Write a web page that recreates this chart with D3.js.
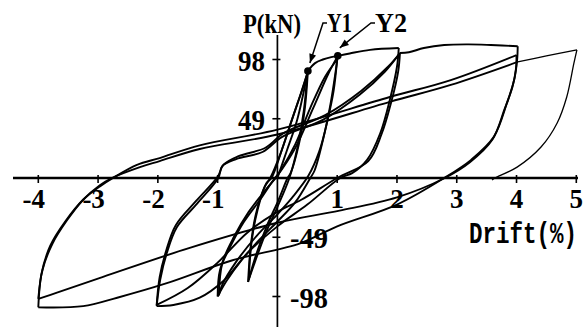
<!DOCTYPE html>
<html>
<head>
<meta charset="utf-8">
<script src="https://cdn.jsdelivr.net/npm/d3@7"></script>
<style>
  body { margin: 0; background: #fff; }
  svg text { font-family: "Liberation Serif", serif; font-weight: bold; fill: #000; }
</style>
</head>
<body>
<script>
const width = 584;
const height = 327;

// axis ticks
const xTicks = [-4, -3, -2, -1, 1, 2, 3, 4, 5];
const yTicks = [98, 49, -49, -98];

// yield points marked on the curve
const yieldNames = ["Y1", "Y2"];
const yieldDrift = [0.51, 1.01];
const yieldLoad = [88.5, 101];

// hysteresis branches, [drift %, P kN], in loading order
const virgin = [[0,0],[0.16,23],[0.33,48],[0.51,88.5]];

const cycle05 = [
  [[0.51,88.5],[0.46,58],[0.36,28],[0.22,4],[0.17,0],[0.02,-18],[-0.18,-40],[-0.36,-64],[-0.49,-86]],
  [[-0.49,-86],[-0.45,-58],[-0.37,-32],[-0.22,-8],[-0.12,0],[0.05,20],[0.22,45],[0.38,68],[0.5,86]],
  [[0.5,86],[0.44,55],[0.33,24],[0.2,0],[0,-24],[-0.2,-46],[-0.38,-70],[-0.48,-84]],
  [[-0.48,-84],[-0.43,-52],[-0.33,-26],[-0.18,-4],[-0.1,0],[0.08,24],[0.27,52],[0.42,74],[0.51,88.5]]
];

const env1 = [[0.51,88.5],[0.63,95],[0.76,98],[0.9,100],[1.01,101]];

const cycle1 = [
  [[1.01,101],[0.95,80],[0.88,59],[0.76,31],[0.62,6],[0.55,0],[0.3,-20],[0,-36],[-0.3,-51],[-0.6,-68],[-0.85,-85],[-1.0,-98]],
  [[-1.0,-98],[-0.96,-76],[-0.79,-57],[-0.57,-37],[-0.29,-18],[-0.1,-4],[0.05,6],[0.3,28],[0.55,58],[0.8,84],[1.0,98]],
  [[1.0,98],[0.94,72],[0.84,48],[0.7,22],[0.52,2],[0.25,-16],[0,-30],[-0.35,-48],[-0.7,-70],[-0.92,-88],[-0.98,-97]],
  [[-0.98,-97],[-0.92,-70],[-0.72,-48],[-0.48,-28],[-0.2,-10],[0,2],[0.3,25],[0.6,58],[0.85,86],[1.01,101]]
];

const env2 = [[1.01,101],[1.21,103],[1.55,106],[2.03,107.5]];

const cycle2 = [
  [[2.03,107.5],[2.0,92],[1.88,64.5],[1.72,37],[1.5,15],[1.25,4],[1.05,0],[0.5,-22],[0,-40],[-0.5,-62],[-0.9,-85],[-1.3,-99],[-1.74,-105],[-2.02,-106]],
  [[-2.02,-106],[-1.96,-84],[-1.85,-62],[-1.68,-40.5],[-1.34,-21],[-0.99,0],[-0.92,10],[-0.69,15.7],[-0.25,21.5],[0.08,34],[0.76,48],[1.38,69],[1.8,88],[2.05,103.4]],
  [[2.05,103.4],[2.02,88],[1.9,62],[1.74,36],[1.52,14],[1.0,0],[0.4,-18],[0,-28],[-0.5,-45],[-1.0,-70],[-1.5,-91],[-2.02,-105]],
  [[-2.02,-105],[-1.97,-82],[-1.86,-60],[-1.7,-39],[-1.36,-19],[-1.0,1],[-0.9,11],[-0.65,18],[-0.2,25],[0.1,37],[0.8,52],[1.4,72],[1.85,92],[2.05,103.4]]
];

const env4 = [[2.05,103.4],[2.2,104],[2.45,107.5],[2.79,110],[3.2,110.5],[3.57,110],[4.02,109]];

const cycle4 = [
  [[4.02,109],[4.01,97.6],[3.96,81],[3.84,62],[3.62,34],[3.24,15],[2.79,0],[2.0,-22],[1.0,-40],[0.38,-54],[-0.75,-68],[-1.85,-87],[-2.68,-99],[-3.25,-106],[-4.0,-107]],
  [[-4.0,-107],[-3.95,-80],[-3.8,-56],[-3.55,-36],[-3.25,-18],[-2.97,-7],[-2.75,0],[-2.35,10.8],[-1.97,16.5],[-1.3,27],[0,40],[1.88,67],[2.9,81],[4.0,101.7]],
  [[4.0,101.7],[3.99,90],[3.93,75],[3.8,57],[3.6,32],[3.22,13],[2.8,0],[2.0,-16],[1.04,-27],[0,-37],[-1.48,-58],[-2.99,-83],[-3.7,-95],[-4.0,-100]],
  [[-4.0,-100],[-3.93,-76],[-3.76,-54],[-3.52,-35],[-3.25,-18],[-2.97,-6],[-2.77,0],[-2.3,9],[-1.97,14],[-1.3,24],[0,36],[1.88,63],[2.9,77],[4.02,96]]
];

const cycle5 = [
  [[4.02,96],[4.5,101],[5.01,106]],
  [[5.01,106],[4.96,95],[4.84,67],[4.68,45.5],[4.41,25.6],[4.01,9],[3.67,0.8],[3.59,-1.6]]
];

const x = d3.scaleLinear().domain([-4, 5]).range([38.3, 576.3]);
const y = d3.scaleLinear().domain([-98, 98]).range([296.5, 59.5]);

const svg = d3.select("body").append("svg")
    .attr("width", width)
    .attr("height", height);

// axes
svg.append("line")
    .attr("x1", 13).attr("x2", 578)
    .attr("y1", y(0)).attr("y2", y(0))
    .attr("stroke", "#000").attr("stroke-width", 2.4);
svg.append("line")
    .attr("x1", x(0)).attr("x2", x(0))
    .attr("y1", 35).attr("y2", height)
    .attr("stroke", "#000").attr("stroke-width", 1.7);

svg.selectAll(".xtick").data(xTicks).enter().append("line")
    .attr("x1", d => x(d)).attr("x2", d => x(d))
    .attr("y1", y(0) - 3).attr("y2", y(0) + 5)
    .attr("stroke", "#000").attr("stroke-width", 1.6);
svg.selectAll(".ytick").data(yTicks).enter().append("line")
    .attr("x1", x(0) - 5).attr("x2", x(0) + 3)
    .attr("y1", d => y(d)).attr("y2", d => y(d))
    .attr("stroke", "#000").attr("stroke-width", 1.6);

// x tick labels: digit centred on the tick, minus sign hanging left
svg.selectAll(".xlab").data(xTicks).enter().append("text")
    .attr("x", d => x(d) + 6.8)
    .attr("y", 208)
    .attr("text-anchor", "end")
    .style("font-size", "27px")
    .text(d => d < 0 ? "-" + Math.abs(d) : d);

svg.selectAll(".ylab").data(yTicks).enter().append("text")
    .attr("x", d => d > 0 ? 265 : 290)
    .attr("y", d => y(d) + 11)
    .attr("text-anchor", d => d > 0 ? "end" : "start")
    .style("font-size", "29px")
    .attr("textLength", d => d > 0 ? 27 : 38)
    .attr("lengthAdjust", "spacingAndGlyphs")
    .text(d => d < 0 ? "-" + Math.abs(d) : d);

svg.append("text")
    .attr("x", 243).attr("y", 33)
    .style("font-size", "28px")
    .attr("textLength", 58).attr("lengthAdjust", "spacingAndGlyphs")
    .text("P(kN)");

// tall, narrow axis title: squeeze horizontally with a transform
svg.append("text")
    .attr("transform", "translate(469,243) scale(0.75,1)")
    .style("font-family", "'Liberation Mono', monospace")
    .style("font-size", "30px")
    .text("Drift(%)");

// curves
const line = d3.line()
    .x(d => x(d[0]))
    .y(d => y(d[1]))
    .curve(d3.curveCatmullRom.alpha(0.5));

const branches = [virgin, env1, env2, env4]
    .concat(cycle05, cycle1, cycle2, cycle4);

svg.selectAll(".branch").data(branches).enter().append("path")
    .attr("d", line)
    .attr("fill", "none")
    .attr("stroke", "#000")
    .attr("stroke-width", 1.9)
    .attr("stroke-linejoin", "round");

svg.selectAll(".branch5").data(cycle5).enter().append("path")
    .attr("d", line)
    .attr("fill", "none")
    .attr("stroke", "#000")
    .attr("stroke-width", 1.3);

// yield markers with leader arrows
const labelX = [327, 375];
const labelW = [25, 32];
yieldNames.forEach((name, i) => {
  const px = x(yieldDrift[i]), py = y(yieldLoad[i]);
  svg.append("circle")
      .attr("cx", px).attr("cy", py).attr("r", 3.8)
      .attr("fill", "#000");
  const sx = labelX[i] - 4, sy = 23;
  const tx = px + 2, ty = py - 8;
  svg.append("path")
      .attr("d", `M${labelX[i]},${sy}L${sx},${sy}L${tx},${ty}`)
      .attr("fill", "none").attr("stroke", "#000").attr("stroke-width", 1.5);
  const ang = Math.atan2(ty - sy, tx - sx);
  const len = 9, half = 3.5;
  const bx = tx - len * Math.cos(ang), by = ty - len * Math.sin(ang);
  svg.append("path")
      .attr("d", `M${tx},${ty}L${bx - half * Math.sin(ang)},${by + half * Math.cos(ang)}L${bx + half * Math.sin(ang)},${by - half * Math.cos(ang)}Z`)
      .attr("fill", "#000");
  svg.append("text")
      .attr("x", labelX[i]).attr("y", 32)
      .style("font-size", "28px")
      .attr("textLength", labelW[i]).attr("lengthAdjust", "spacingAndGlyphs")
      .text(name);
});
</script>
</body>
</html>
